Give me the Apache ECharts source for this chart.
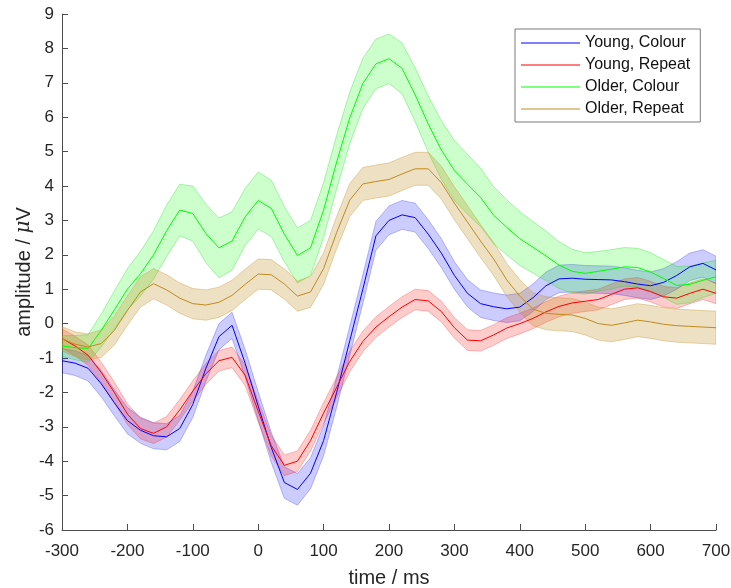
<!DOCTYPE html>
<html>
<head>
<meta charset="utf-8">
<script src="https://cdn.jsdelivr.net/npm/echarts@6/dist/echarts.min.js"></script>
<style>
html,body{margin:0;padding:0;background:#fff;}
#chart{width:731px;height:588px;}
</style>
</head>
<body>
<div id="chart"></div>
<script>
// time points (ms)
var times = [-300,-280,-260,-240,-220,-200,-180,-160,-140,-120,
             -100,-80,-60,-40,-20,0,20,40,60,80,
             100,120,140,160,180,200,220,240,260,280,
             300,320,340,360,380,400,420,440,460,480,
             500,520,540,560,580,600,620,640,660,680,700];

var seriesNames = ['Young, Colour','Young, Repeat','Older, Colour','Older, Repeat'];

// mean amplitudes (µV)
var youngColour = [-1.08,-1.15,-1.3,-1.75,-2.3,-2.82,-3.1,-3.26,-3.29,-3.05,
                   -2.35,-1.3,-0.38,-0.05,-1.15,-2.4,-3.6,-4.62,-4.82,-4.35,
                   -3.4,-2.0,-0.5,1.0,2.55,3.0,3.16,3.08,2.6,2.05,
                   1.4,0.88,0.58,0.49,0.43,0.48,0.75,1.1,1.3,1.32,
                   1.29,1.28,1.27,1.22,1.15,1.1,1.2,1.4,1.65,1.75,1.56];
var youngRepeat = [-0.43,-0.65,-0.92,-1.42,-2.0,-2.63,-3.05,-3.19,-3.0,-2.51,
                   -1.96,-1.46,-1.08,-0.98,-1.5,-2.55,-3.55,-4.12,-4.0,-3.4,
                   -2.6,-1.85,-1.1,-0.52,-0.1,0.2,0.48,0.7,0.66,0.35,
                   -0.12,-0.48,-0.5,-0.33,-0.13,0.0,0.15,0.34,0.5,0.6,
                   0.65,0.7,0.85,1.0,1.04,0.93,0.78,0.74,0.88,1.0,0.88];
var olderColour = [-0.65,-0.7,-0.72,-0.2,0.4,1.0,1.45,2.0,2.7,3.3,
                   3.2,2.62,2.2,2.4,3.1,3.58,3.35,2.6,1.98,2.2,
                   3.3,4.7,5.98,6.98,7.55,7.7,7.42,6.65,5.8,5.05,
                   4.45,4.05,3.67,3.15,2.8,2.47,2.22,1.97,1.7,1.52,
                   1.46,1.52,1.58,1.65,1.63,1.5,1.31,1.11,1.14,1.26,1.36];
var olderRepeat = [-0.44,-0.6,-0.68,-0.58,-0.2,0.38,0.92,1.16,0.98,0.74,
                   0.58,0.54,0.62,0.82,1.14,1.44,1.42,1.15,0.8,0.92,
                   1.6,2.65,3.59,4.06,4.13,4.19,4.35,4.5,4.5,4.1,
                   3.5,2.95,2.4,1.88,1.27,0.8,0.42,0.3,0.27,0.25,
                   0.15,0.0,-0.05,0.02,0.1,0.05,-0.02,-0.06,-0.08,-0.1,-0.12];

// shaded half-widths (µV)
var youngColourErr = [0.35,0.36,0.37,0.38,0.38,0.38,0.38,0.38,0.38,0.38,
                      0.38,0.38,0.38,0.38,0.4,0.42,0.44,0.46,0.46,0.45,
                      0.44,0.43,0.42,0.42,0.42,0.42,0.42,0.42,0.42,0.42,
                      0.4,0.4,0.4,0.4,0.4,0.4,0.4,0.4,0.4,0.4,
                      0.4,0.4,0.4,0.4,0.4,0.4,0.4,0.4,0.4,0.4,0.4];
var youngRepeatErr = [0.28,0.28,0.3,0.3,0.3,0.3,0.3,0.3,0.3,0.3,
                      0.3,0.3,0.3,0.3,0.3,0.3,0.3,0.3,0.3,0.3,
                      0.3,0.3,0.3,0.3,0.3,0.3,0.3,0.3,0.3,0.3,
                      0.3,0.3,0.3,0.3,0.3,0.3,0.3,0.3,0.3,0.3,
                      0.3,0.3,0.3,0.3,0.3,0.3,0.3,0.3,0.3,0.3,0.3];
var olderColourErr = [0.3,0.35,0.4,0.48,0.55,0.6,0.65,0.7,0.75,0.75,
                      0.8,0.85,0.87,0.85,0.83,0.83,0.82,0.8,0.8,0.8,
                      0.8,0.78,0.75,0.73,0.72,0.72,0.74,0.78,0.82,0.85,
                      0.87,0.87,0.85,0.83,0.8,0.78,0.75,0.72,0.68,0.64,
                      0.6,0.58,0.57,0.56,0.56,0.56,0.55,0.55,0.53,0.5,0.48];
var olderRepeatErr = [0.35,0.36,0.38,0.4,0.42,0.43,0.44,0.44,0.44,0.44,
                      0.44,0.44,0.44,0.44,0.44,0.44,0.44,0.44,0.44,0.45,
                      0.46,0.47,0.48,0.48,0.48,0.48,0.48,0.48,0.48,0.48,
                      0.48,0.48,0.48,0.48,0.48,0.48,0.48,0.48,0.48,0.48,
                      0.48,0.48,0.48,0.48,0.48,0.48,0.48,0.48,0.48,0.48,0.48];

var xTicks = [-300,-200,-100,0,100,200,300,400,500,600,700];
var yTicks = [-6,-5,-4,-3,-2,-1,0,1,2,3,4,5,6,7,8,9];

var FONT = "'Liberation Sans', Arial, Helvetica, sans-serif";
var lineColors = ['#0000ff','#ff0000','#00ff00','#bf8c1f'];
var bandFills = ['rgba(0,0,255,0.2)','rgba(255,0,0,0.2)','rgba(0,255,0,0.2)','rgba(191,140,31,0.27)'];
var bandEdges = ['rgba(0,0,255,0.25)','rgba(255,0,0,0.25)','rgba(0,220,0,0.3)','rgba(191,140,31,0.35)'];
var means = [youngColour, youngRepeat, olderColour, olderRepeat];
var errs = [youngColourErr, youngRepeatErr, olderColourErr, olderRepeatErr];

function bandSeries(idx) {
  var m = means[idx], e = errs[idx];
  var data = times.map(function (t, i) { return [t, m[i] - e[i], m[i] + e[i]]; });
  return {
    type: 'custom',
    name: seriesNames[idx] + ' band',
    data: data,
    encode: { x: 0, y: [1, 2] },
    silent: true,
    clip: true,
    z: 1,
    renderItem: function (params, api) {
      if (params.dataIndex !== 0) return null;
      var pts = [];
      for (var i = 0; i < data.length; i++) pts.push(api.coord([data[i][0], data[i][2]]));
      for (var j = data.length - 1; j >= 0; j--) pts.push(api.coord([data[j][0], data[j][1]]));
      return {
        type: 'polygon',
        shape: { points: pts },
        style: { fill: bandFills[idx], stroke: bandEdges[idx], lineWidth: 1 }
      };
    }
  };
}

function lineSeries(idx) {
  var m = means[idx];
  return {
    type: 'line',
    name: seriesNames[idx],
    data: times.map(function (t, i) { return [t, m[i]]; }),
    symbol: 'none',
    showSymbol: false,
    color: lineColors[idx],
    lineStyle: { width: 1, color: lineColors[idx] },
    z: 3,
    animation: false
  };
}

var series = [];
for (var k = 0; k < 4; k++) series.push(bandSeries(k));
for (var k2 = 0; k2 < 4; k2++) series.push(lineSeries(k2));

var axisCol = '#4d4d4d';
var chart = echarts.init(document.getElementById('chart'), null, { renderer: 'canvas' });
chart.setOption({
  animation: false,
  backgroundColor: '#ffffff',
  textStyle: { fontFamily: FONT },
  grid: { left: 62, right: 15, top: 14, bottom: 58, containLabel: false, outerBoundsMode: 'none' },
  xAxis: {
    type: 'value',
    min: xTicks[0], max: xTicks[xTicks.length - 1], interval: 100,
    name: 'time / ms', nameLocation: 'middle', nameGap: 38,
    nameTextStyle: { fontSize: 20, color: '#262626', fontFamily: FONT },
    axisLine: { show: true, onZero: false, lineStyle: { color: axisCol, width: 1 } },
    axisTick: { show: true, inside: true, length: 6, lineStyle: { color: axisCol } },
    axisLabel: { fontSize: 17, color: '#262626', margin: 13, fontFamily: FONT },
    splitLine: { show: false }
  },
  yAxis: {
    type: 'value',
    min: yTicks[0], max: yTicks[yTicks.length - 1], interval: 1,
    name: 'amplitude / {i|μ}V', nameLocation: 'middle', nameGap: 28, nameMoveOverlap: false,
    nameTextStyle: {
      fontSize: 20, color: '#262626', fontFamily: FONT,
      rich: { i: { fontSize: 20, fontStyle: 'italic', color: '#262626', fontFamily: "'DejaVu Serif', serif" } }
    },
    axisLine: { show: true, onZero: false, lineStyle: { color: axisCol, width: 1 } },
    axisTick: { show: true, inside: true, length: 6, lineStyle: { color: axisCol } },
    axisLabel: { fontSize: 17, color: '#262626', margin: 8, fontFamily: FONT },
    splitLine: { show: false }
  },
  legend: {
    data: seriesNames.map(function (n) { return { name: n, icon: 'path://M0,0H60V1H0Z' }; }),
    orient: 'vertical',
    left: 515, top: 29,
    itemWidth: 59, itemHeight: 16, itemGap: 6,
    padding: [6, 10, 5, 6],
    backgroundColor: '#ffffff',
    borderColor: '#7a7a7a', borderWidth: 1, borderRadius: 0,
    textStyle: { fontSize: 16, color: '#111', fontFamily: FONT },
    selectedMode: false
  },
  series: series
});
</script>
</body>
</html>
